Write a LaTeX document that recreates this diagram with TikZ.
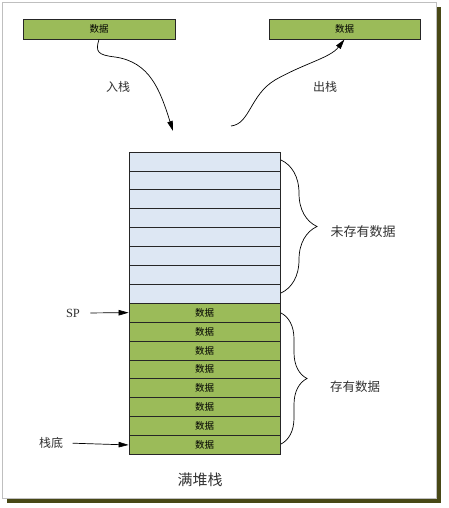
\documentclass[tikz,border=0pt]{standalone}
\usepackage{fontspec}
\setmainfont{Liberation Serif}
\newfontfamily\cjk{Noto Sans CJK SC}
\usetikzlibrary{arrows.meta,decorations.pathreplacing}
\definecolor{datagreen}{RGB}{155,187,89}
\definecolor{freeblue}{RGB}{221,231,243}
\definecolor{shadowolive}{RGB}{72,72,22}

\begin{document}
\begin{tikzpicture}[x=1pt,y=-1pt,
  cell/.style={draw=black!85,line width=.8pt,minimum width=151pt,minimum height=18.9pt,inner sep=0pt,font=\cjk\fontsize{9.5}{10}\selectfont},
  fullcell/.style={cell,fill=datagreen},
  freecell/.style={cell,fill=freeblue},
  lbl/.style={font=\cjk\fontsize{12}{14}\selectfont,text=black!80},
  tip/.style={-{Triangle[length=10pt,width=5.5pt]},line width=.7pt}]
\useasboundingbox (0,0) rectangle (448,508);
\fill[shadowolive] (7,7) rectangle (441,503);
\draw[black!25,fill=white] (2,2) rectangle (436,498);
% the two loose values
\node[fullcell,minimum width=152pt,minimum height=20pt] (inbox) at (99,29) {数据};
\node[fullcell,minimum height=20pt] (outbox) at (344.5,29) {数据};
% the stack
\foreach \i in {0,...,7}
  \node[freecell] (e\i) at (204.5,161.45+18.9*\i) {};
\foreach \i in {0,...,7}
  \node[fullcell] (f\i) at (204.5,312.65+18.9*\i) {数据};
% push and pop
\coordinate (pushend) at (173,131);
\coordinate (popstart) at (231,126);
\draw[tip] (inbox.south) .. controls (95,52) and (98,55) .. (115,57)
  .. controls (150,62) and (160,90) .. (pushend);
\draw[tip] (popstart) .. controls (250,124) and (250,95) .. (275,80)
  .. controls (305,63) and (330,58) .. (outbox.south);
\node[lbl] (push) at (118,87) {入栈};
\node[lbl] (pop) at (325,87) {出栈};
% pointers
\node[font=\fontsize{12.5}{13}\selectfont,text=black!80] (sp) at (73,313) {SP};
\node[lbl] (base) at (51,443) {栈底};
\draw[tip,shorten <=7pt] (sp.east) -- (f0.west);
\draw[tip,shorten <=6pt] (base.east) -- (f7.west);
% braces
\draw[decorate,decoration={brace,amplitude=36pt},line width=.7pt] (281,160) -- (281,293);
\draw[decorate,decoration={brace,amplitude=26pt},line width=.7pt] (281,313) -- (281,444);
\node[lbl,font=\cjk\fontsize{13}{14}\selectfont] (free) at (363,232) {未存有数据};
\node[lbl,font=\cjk\fontsize{12.5}{14}\selectfont] (used) at (355,387) {存有数据};
\node[lbl,font=\cjk\fontsize{15}{16}\selectfont] (title) at (200,480) {满堆栈};
\end{tikzpicture}
\end{document}
